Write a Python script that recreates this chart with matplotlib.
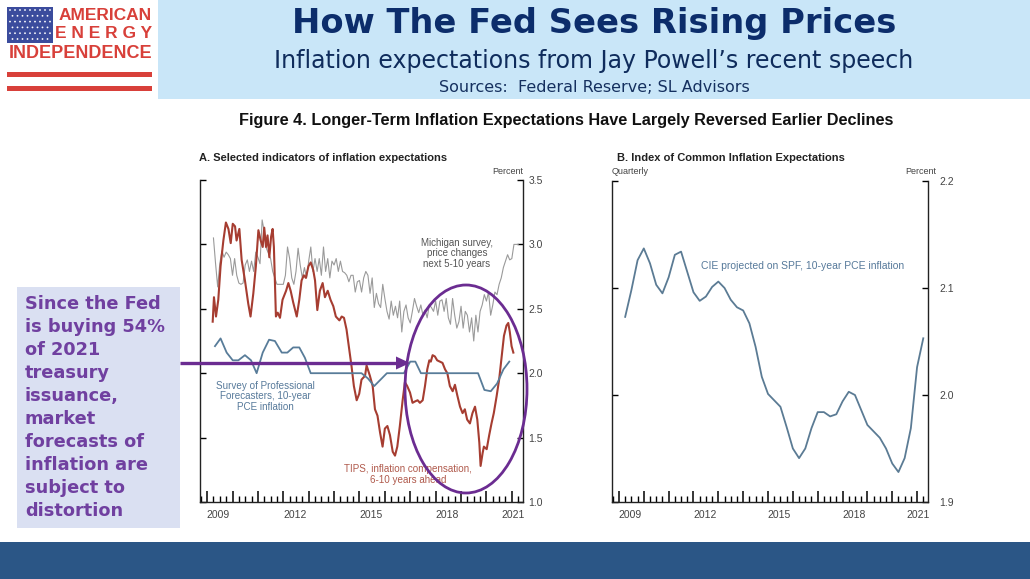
import matplotlib
matplotlib.use('Agg')
import matplotlib.pyplot as plt
from matplotlib.patches import Rectangle, Ellipse, Polygon, Circle
import numpy as np

# ---------------- data ----------------
year_labels = ['2009', '2012', '2015', '2018', '2021']
label_years = [2009.45, 2012.45, 2015.45, 2018.45, 2021.05]

# Michigan survey, 5-10 yr (monthly, starting 2009.25)
mich_start = 2009.25
mich_values = [
    3.05, 2.85, 2.67, 2.85, 2.95, 2.90, 2.94, 2.92, 2.89, 2.76,
    2.89, 2.76, 2.70, 2.69, 2.70, 2.84, 2.88, 2.79, 2.87, 2.79,
    2.94, 2.90, 2.85, 3.19, 3.10, 2.97, 2.93, 2.89, 2.79, 2.74,
    2.69, 2.69, 2.69, 2.69, 2.76, 2.98, 2.89, 2.74, 2.69, 2.79,
    2.97, 2.84, 2.74, 2.82, 2.74, 2.87, 2.98, 2.79, 2.89, 2.79,
    2.89, 2.76, 2.98, 2.79, 2.89, 2.74, 2.87, 2.84, 2.89, 2.79,
    2.87, 2.79, 2.78, 2.76, 2.71, 2.76, 2.76, 2.63, 2.71, 2.72,
    2.63, 2.74,
    2.79, 2.76, 2.62, 2.74, 2.51, 2.62, 2.54, 2.51, 2.69, 2.58,
    2.48, 2.42, 2.56, 2.45, 2.52, 2.43, 2.56, 2.32, 2.48, 2.53,
    2.43, 2.39, 2.48, 2.58, 2.52, 2.47, 2.53, 2.45, 2.49, 2.43,
    2.53, 2.51, 2.48, 2.56, 2.45, 2.56, 2.57, 2.48, 2.58, 2.43,
    2.38, 2.58, 2.45, 2.35, 2.40, 2.52, 2.35, 2.48, 2.45, 2.32,
    2.43, 2.25, 2.45, 2.32, 2.48, 2.53, 2.61, 2.56, 2.63, 2.45,
    2.53, 2.63, 2.61, 2.69, 2.74, 2.82, 2.87, 2.92, 2.88, 2.89,
    3.00, 3.00, 3.00]

# TIPS inflation compensation, 6-10 years ahead
tips_years = [
    2009.22, 2009.27, 2009.35, 2009.44, 2009.53, 2009.64, 2009.74, 2009.84, 2009.93, 2010.01,
    2010.10, 2010.16, 2010.27, 2010.36, 2010.49, 2010.62, 2010.71, 2010.82, 2010.92, 2011.02,
    2011.11, 2011.19, 2011.25, 2011.32, 2011.38, 2011.45, 2011.52, 2011.58, 2011.63, 2011.71,
    2011.78, 2011.87, 2011.97, 2012.11, 2012.20, 2012.29, 2012.39, 2012.53, 2012.63, 2012.72,
    2012.81, 2012.89, 2012.99, 2013.08, 2013.18, 2013.25, 2013.34, 2013.44, 2013.55, 2013.64,
    2013.75, 2013.86, 2013.97, 2014.07, 2014.21, 2014.30, 2014.39, 2014.49, 2014.60, 2014.69,
    2014.78, 2014.89, 2014.99, 2015.08, 2015.22,
    2015.28, 2015.41, 2015.52, 2015.61, 2015.71, 2015.81, 2015.91, 2016.00, 2016.10, 2016.20,
    2016.31, 2016.40, 2016.49, 2016.59, 2016.70, 2016.79, 2016.88, 2016.99, 2017.09, 2017.18,
    2017.29, 2017.38, 2017.49, 2017.58, 2017.67, 2017.75, 2017.81, 2017.88, 2017.97, 2018.06,
    2018.17, 2018.27, 2018.37, 2018.46, 2018.56, 2018.67, 2018.76, 2018.85, 2018.96, 2019.06,
    2019.15, 2019.24, 2019.35, 2019.45, 2019.55, 2019.64, 2019.72, 2019.77, 2019.85, 2019.90,
    2020.01, 2020.11, 2020.20, 2020.29, 2020.40, 2020.50, 2020.60, 2020.69, 2020.79, 2020.86,
    2020.92, 2020.99, 2021.06]
tips_values = [
    2.40, 2.59, 2.44, 2.57, 2.83, 3.03, 3.17, 3.12, 3.01, 3.16,
    3.14, 3.03, 3.12, 2.88, 2.72, 2.54, 2.44, 2.62, 2.83, 3.11,
    3.03, 2.98, 3.13, 2.98, 3.07, 2.90, 3.06, 3.12, 2.98, 2.44,
    2.47, 2.43, 2.57, 2.64, 2.70, 2.64, 2.55, 2.44, 2.57, 2.72,
    2.76, 2.74, 2.83, 2.86, 2.80, 2.72, 2.49, 2.64, 2.70, 2.59,
    2.64, 2.57, 2.52, 2.44, 2.41, 2.44, 2.43, 2.34, 2.18, 2.05,
    1.90, 1.79, 1.84, 1.95, 1.98,
    2.06, 1.98, 1.90, 1.72, 1.67, 1.54, 1.43, 1.57, 1.59, 1.52,
    1.39, 1.36, 1.43, 1.59, 1.79, 1.93, 1.90, 1.85, 1.77, 1.78,
    1.79, 1.77, 1.79, 1.90, 2.03, 2.10, 2.09, 2.14, 2.13, 2.10,
    2.09, 2.08, 2.03, 2.00, 1.90, 1.86, 1.91, 1.83, 1.74, 1.69,
    1.72, 1.64, 1.61, 1.69, 1.74, 1.64, 1.46, 1.28, 1.38, 1.43,
    1.41, 1.52, 1.61, 1.69, 1.82, 1.95, 2.13, 2.29, 2.37, 2.39,
    2.32, 2.21, 2.16]

# Survey of Professional Forecasters, 10-year PCE inflation (quarterly)
spf_years = [
    2009.31, 2009.53, 2009.77, 2010.01, 2010.23, 2010.49, 2010.73, 2010.95, 2011.19, 2011.44,
    2011.67, 2011.94, 2012.16, 2012.39, 2012.63, 2012.85, 2013.08, 2013.33, 2013.58, 2013.83,
    2014.08, 2014.33, 2014.58, 2014.83, 2015.08, 2015.33, 2015.58, 2015.83, 2016.08, 2016.33,
    2016.58, 2016.75, 2017.00, 2017.20, 2017.42, 2017.67, 2017.92, 2018.17, 2018.42, 2018.67,
    2018.92, 2019.17, 2019.42, 2019.67, 2019.92, 2020.17, 2020.42, 2020.67, 2020.90]
spf_values = [
    2.21, 2.27, 2.16, 2.10, 2.10, 2.14, 2.10, 2.00, 2.16, 2.26,
    2.25, 2.16, 2.16, 2.20, 2.20, 2.12, 2.00, 2.00, 2.00, 2.00,
    2.00, 2.00, 2.00, 2.00, 2.00, 1.96, 1.90, 1.95, 2.00, 2.00,
    2.00, 2.00, 2.09, 2.09, 2.00, 2.00, 2.00, 2.00, 2.00, 2.00,
    2.00, 2.00, 2.00, 2.00, 1.87, 1.86, 1.92, 2.03, 2.09]

# Index of Common Inflation Expectations (quarterly, starting 2009.25)
cie_start = 2009.25
cie_values = [
    2.073, 2.098, 2.126, 2.137, 2.123, 2.103, 2.095, 2.110, 2.131, 2.134,
    2.115, 2.096, 2.088, 2.092, 2.101, 2.106, 2.100, 2.089, 2.082, 2.079,
    2.067, 2.045, 2.017, 2.001, 1.995, 1.989, 1.970, 1.950, 1.941, 1.950,
    1.969, 1.984, 1.984, 1.980, 1.982, 1.994, 2.003, 2.000, 1.986, 1.972,
    1.966, 1.960, 1.950, 1.936, 1.928, 1.941, 1.969, 2.026, 2.053]

text_lines = ['Since the Fed', 'is buying 54%', 'of 2021', 'treasury', 'issuance,',
              'market', 'forecasts of', 'inflation are', 'subject to', 'distortion']

# ---------------- figure ----------------
W, H = 1030, 579
fig = plt.figure(figsize=(W / 100, H / 100), dpi=100)
fig.patch.set_facecolor('white')

bg = fig.add_axes([0, 0, 1, 1], zorder=0)
bg.set_xlim(0, W); bg.set_ylim(H, 0); bg.axis('off')

PURPLE = '#6b2c91'
bg.add_patch(Rectangle((158, 0), W - 158, 99, color='#c9e6f8', lw=0))
bg.add_patch(Rectangle((0, 542), W, 37, color='#2b5686', lw=0))
bg.add_patch(Rectangle((17, 287), 163, 241, color='#dae0f2', lw=0))

# logo
bg.add_patch(Rectangle((7, 7), 46, 36, color='#3b4c9d', lw=0))
for r in range(6):
    for c in range(8 if r % 2 else 9):
        cx = 10 + c * 5.0 + (2.5 if r % 2 else 0)
        cy = 10 + r * 5.8
        bg.add_patch(Circle((cx, cy), 0.9, color='white', lw=0))
RED = '#d8403a'
bg.add_patch(Rectangle((7, 72), 145, 5, color=RED, lw=0))
bg.add_patch(Rectangle((7, 86), 145, 5, color=RED, lw=0))
logo_font = dict(family='Liberation Sans', weight='bold', color=RED)
bg.text(152, 16, 'AMERICAN', ha='right', va='center', fontsize=12.5, **logo_font)
bg.text(152, 34, 'E N E R G Y', ha='right', va='center', fontsize=12.5, **logo_font)
bg.text(152, 54, 'INDEPENDENCE', ha='right', va='center', fontsize=13, **logo_font)

# header texts
bg.text(594, 23, 'How The Fed Sees Rising Prices', ha='center', va='center',
        fontsize=24.3, weight='bold', color='#0c2d6b', family='DejaVu Sans')
bg.text(594, 61, 'Inflation expectations from Jay Powell\u2019s recent speech', ha='center',
        va='center', fontsize=17, color='#0f2c5c', family='DejaVu Sans')
bg.text(594, 87, 'Sources:  Federal Reserve; SL Advisors', ha='center', va='center',
        fontsize=11.5, color='#15305f', family='DejaVu Sans')
bg.text(566, 120, 'Figure 4. Longer-Term Inflation Expectations Have Largely Reversed Earlier Declines',
        ha='center', va='center', fontsize=11.7, weight='bold', color='#111111',
        family='Liberation Sans')

# left text box
bg.text(25, 295, '\n'.join(text_lines), ha='left', va='top', fontsize=12.8,
        weight='bold', color='#7040a0', family='DejaVu Sans', linespacing=1.36)

# ---------------- panels ----------------
CH = 'Liberation Sans'
TICKC = '#444444'
XLIM = (2008.72, 2021.44)


def style_axis(ax, ylim, yticks):
    ax.set_xlim(*XLIM)
    ax.set_ylim(*ylim)
    ax.spines['top'].set_visible(False)
    for s in ['left', 'right', 'bottom']:
        ax.spines[s].set_linewidth(1.0)
        ax.spines[s].set_color('#222222')
    ax.set_yticks(yticks)
    ax.set_yticklabels(['%.1f' % t for t in yticks], fontsize=7.5, color=TICKC, family=CH)
    ax.tick_params(axis='y', which='both', left=True, right=True, labelleft=False,
                   labelright=True, direction='in', length=4, width=1.0, pad=4)
    ax.set_xticks(np.arange(2009, 2022))
    ax.set_xticks(np.arange(2008.75, 2021.5, 0.25), minor=True)
    ax.tick_params(axis='x', which='major', direction='in', length=8, width=1.1,
                   labelbottom=False, top=False)
    ax.tick_params(axis='x', which='minor', direction='in', length=4, width=1.0, top=False)
    for yl, lab in zip(label_years, year_labels):
        ax.text(yl, -0.025, lab, transform=ax.get_xaxis_transform(), ha='center', va='top',
                fontsize=7.5, color=TICKC, family=CH)


axA = fig.add_axes([200 / W, 1 - 502 / H, 323 / W, 322 / H], zorder=2)
axA.set_facecolor('none')
mich_x = mich_start + np.arange(len(mich_values)) / 12.0
axA.plot(mich_x, mich_values, color='#9a9a9a', lw=0.8, zorder=2)
axA.plot(tips_years, tips_values, color='#a63d31', lw=1.5, zorder=3)
axA.plot(spf_years, spf_values, color='#587c99', lw=1.3, zorder=4)
style_axis(axA, (1.0, 3.5), [1.0, 1.5, 2.0, 2.5, 3.0, 3.5])

axA.text(2018.84, 2.93, 'Michigan survey,\nprice changes\nnext 5-10 years', ha='center',
         va='center', fontsize=7, color='#555555', family=CH, linespacing=1.05)
axA.text(2011.28, 1.82, 'Survey of Professional\nForecasters, 10-year\nPCE inflation',
         ha='center', va='center', fontsize=7.1, color='#56799a', family=CH, linespacing=1.05)
axA.text(2016.91, 1.215, 'TIPS, inflation compensation,\n6-10 years ahead', ha='center',
         va='center', fontsize=7.1, color='#b05a4c', family=CH, linespacing=1.05)

fig.text(199 / W, 1 - 158 / H, 'A. Selected indicators of inflation expectations',
         ha='left', va='center', fontsize=8, weight='bold', color='#222222', family=CH)
fig.text(523 / W, 1 - 172 / H, 'Percent', ha='right', va='center', fontsize=6.5,
         color=TICKC, family=CH)

axB = fig.add_axes([612 / W, 1 - 502 / H, 316 / W, 321 / H], zorder=2)
axB.set_facecolor('none')
cie_x = cie_start + np.arange(len(cie_values)) * 0.25
axB.plot(cie_x, cie_values, color='#5b7b94', lw=1.3)
style_axis(axB, (1.9, 2.2), [1.9, 2.0, 2.1, 2.2])
axB.tick_params(axis='y', pad=8)
axB.text(2016.41, 2.121, 'CIE projected on SPF, 10-year PCE inflation', ha='center',
         va='center', fontsize=7.5, color='#56799a', family=CH)

fig.text(617 / W, 1 - 158 / H, 'B. Index of Common Inflation Expectations',
         ha='left', va='center', fontsize=8, weight='bold', color='#222222', family=CH)
fig.text(612 / W, 1 - 172 / H, 'Quarterly', ha='left', va='center', fontsize=6.5,
         color=TICKC, family=CH)
fig.text(936 / W, 1 - 172 / H, 'Percent', ha='right', va='center', fontsize=6.5,
         color=TICKC, family=CH)

# ---------------- foreground annotations ----------------
fg = fig.add_axes([0, 0, 1, 1], zorder=10)
fg.set_xlim(0, W); fg.set_ylim(H, 0); fg.axis('off')
fg.patch.set_alpha(0)
fg.add_patch(Ellipse((466, 389), 122, 208, fill=False, ec=PURPLE, lw=2.0))
fg.plot([180, 398], [363, 363], color=PURPLE, lw=2.4, solid_capstyle='butt')
fg.add_patch(Polygon([(396, 356.5), (410, 363), (396, 369.5)], closed=True, color=PURPLE, lw=0))

fig.savefig('out.png', dpi=100)
